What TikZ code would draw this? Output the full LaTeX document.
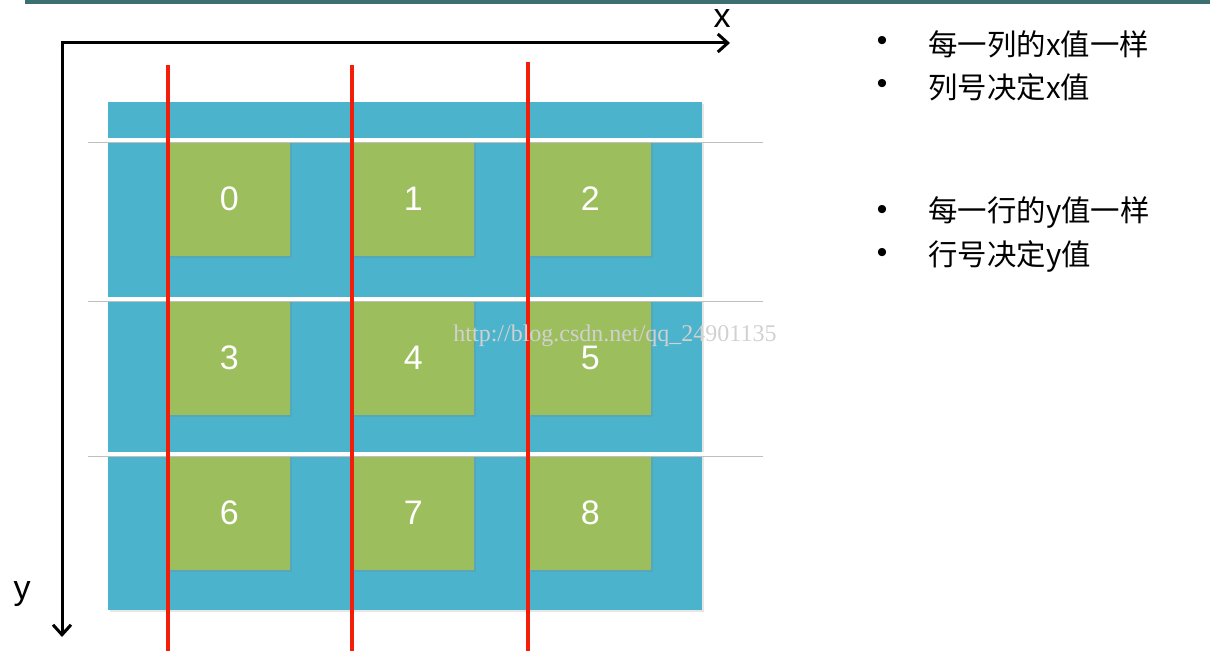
\documentclass[tikz,border=0pt]{standalone}
\usepackage{fontspec}
\setmainfont{Liberation Sans}
\newfontfamily\cjk{Noto Sans CJK SC}
\newfontfamily\wmfont{Liberation Serif}
\definecolor{gridblue}{RGB}{75, 179, 204}
\definecolor{cellgreen}{RGB}{157, 190, 92}
\definecolor{colred}{RGB}{242, 30, 10}
\definecolor{topbar}{RGB}{60, 112, 112}
\usetikzlibrary{arrows.meta, shadows}

\begin{document}
\begin{tikzpicture}[x=0.5pt, y=-0.5pt,
  cell/.style={fill=cellgreen, minimum width=61pt, minimum height=57.5pt,
        anchor=north west, inner sep=0pt, text=white,
        font=\fontsize{17}{20}\selectfont,
        drop shadow={shadow xshift=1pt, shadow yshift=-1pt, opacity=0.2}},
  colline/.style={colred, line width=1.8pt},
  rowline/.style={white, line width=1.6pt},
  rowshade/.style={black!25, line width=0.8pt},
  axis/.style={line width=1.5pt,
        {Straight Barb[length=5pt, width=9pt]}-{Straight Barb[length=5pt, width=9pt]}},
  axlabel/.style={inner sep=0pt, font=\fontsize{17}{20}\selectfont},
  note/.style={anchor=west, inner sep=0pt, font=\cjk\fontsize{14.7}{17}\selectfont},
  dot/.style={inner sep=0pt, font=\fontsize{15}{16}\selectfont}]
  \useasboundingbox (0,0) rectangle (1210,651);
  \fill[topbar] (25,0) rectangle (1210,4);

  % grid background
  \node[fill=gridblue, minimum width=297pt, minimum height=254pt, anchor=north west,
        inner sep=0pt, drop shadow={shadow xshift=1pt, shadow yshift=-1pt, opacity=0.2}]
        (grid) at (108,102) {};

  % cells
  \node[cell] (c0) at (168,141) {0};
  \node[cell] (c1) at (352,141) {1};
  \node[cell] (c2) at (529,141) {2};
  \node[cell] (c3) at (168,300) {3};
  \node[cell] (c4) at (352,300) {4};
  \node[cell] (c5) at (529,300) {5};
  \node[cell] (c6) at (168,455) {6};
  \node[cell] (c7) at (352,455) {7};
  \node[cell] (c8) at (529,455) {8};

  % row lines
  \draw[rowshade] (88,142.5) -- (763,142.5);
  \draw[rowshade] (88,301.5) -- (763,301.5);
  \draw[rowshade] (88,456.5) -- (763,456.5);
  \draw[rowline] (88,140) -- (763,140);
  \draw[rowline] (88,299) -- (763,299);
  \draw[rowline] (88,454) -- (763,454);

  % column lines
  \draw[colline] (168,65) -- (168,651);
  \draw[colline] (352,65) -- (352,651);
  \draw[colline] (528,62) -- (528,651);

  % axes
  \coordinate (origin) at (62,43);
  \coordinate (xend) at (730,43);
  \coordinate (yend) at (62,637);
  \draw[axis] (yend) -- (origin) -- (xend);
  \node[axlabel] (xlab) at (722,19) {x};
  \node[axlabel] (ylab) at (22,594) {y};

  % watermark
  \node[inner sep=0pt, text=black!18, font=\wmfont\fontsize{12}{14}\selectfont]
        (mark) at (615,336) {http://blog.csdn.net/qq\_24901135};

  % notes
  \node[dot] (b1) at (882,44) {•};
  \node[dot] (b2) at (882,87) {•};
  \node[dot] (b3) at (882,213) {•};
  \node[dot] (b4) at (882,256) {•};
  \node[note] (n1) at (928,44) {每一列的x值一样};
  \node[note] (n2) at (928,87) {列号决定x值};
  \node[note] (n3) at (928,213) {每一行的y值一样};
  \node[note] (n4) at (928,256) {行号决定y值};
\end{tikzpicture}
\end{document}
